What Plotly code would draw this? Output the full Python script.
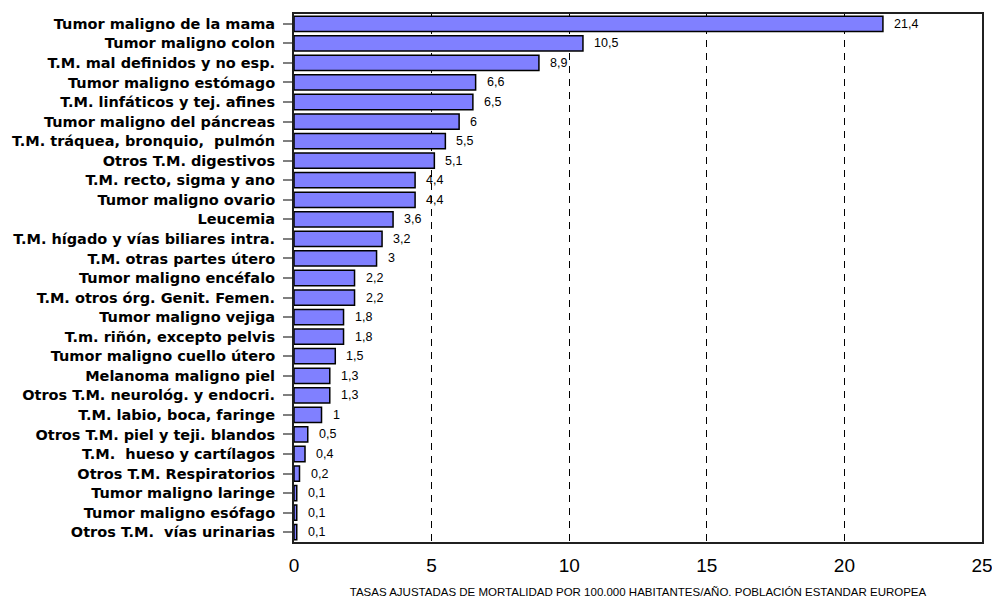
import plotly.graph_objects as go

categories = [
    "Tumor maligno de la mama",
    "Tumor maligno colon",
    "T.M. mal definidos y no esp.",
    "Tumor maligno estómago",
    "T.M. linfáticos y tej. afines",
    "Tumor maligno del páncreas",
    "T.M. tráquea, bronquio,\u00a0 pulmón",
    "Otros T.M. digestivos",
    "T.M. recto, sigma y ano",
    "Tumor maligno ovario",
    "Leucemia",
    "T.M. hígado y vías biliares intra.",
    "T.M. otras partes útero",
    "Tumor maligno encéfalo",
    "T.M. otros órg. Genit. Femen.",
    "Tumor maligno vejiga",
    "T.m. riñón, excepto pelvis",
    "Tumor maligno cuello útero",
    "Melanoma maligno piel",
    "Otros T.M. neurológ. y endocri.",
    "T.M. labio, boca, faringe",
    "Otros T.M. piel y teji. blandos",
    "T.M.\u00a0 hueso y cartílagos",
    "Otros T.M. Respiratorios",
    "Tumor maligno laringe",
    "Tumor maligno esófago",
    "Otros T.M.\u00a0 vías urinarias",
]
values = [21.4, 10.5, 8.9, 6.6, 6.5, 6, 5.5, 5.1, 4.4, 4.4, 3.6, 3.2, 3, 2.2, 2.2,
          1.8, 1.8, 1.5, 1.3, 1.3, 1, 0.5, 0.4, 0.2, 0.1, 0.1, 0.1]
x_ticks = [0, 5, 10, 15, 20, 25]
x_title = "TASAS AJUSTADAS DE MORTALIDAD POR 100.000 HABITANTES/AÑO. POBLACIÓN ESTANDAR EUROPEA"

labels = [("%g" % v).replace(".", ",") for v in values]

fig = go.Figure(go.Bar(
    y=categories, x=values, orientation="h",
    marker=dict(color="#8080ff", line=dict(color="black", width=1.5)),
    width=0.78,
))

for c, v, t in zip(categories, values, labels):
    fig.add_annotation(
        x=v, y=c, text=t, showarrow=False, xanchor="left", yanchor="middle",
        xshift=9, font=dict(family="Liberation Sans, Arial", size=12.5, color="black"),
    )

fig.update_layout(
    width=992, height=598,
    margin=dict(l=294, r=10, t=14, b=56, autoexpand=False),
    paper_bgcolor="white", plot_bgcolor="white",
    showlegend=False,
    font=dict(family="Liberation Sans, Arial", color="black"),
)
fig.update_xaxes(
    range=[0, 25], tickvals=x_ticks, ticktext=[str(t) for t in x_ticks],
    showgrid=True, gridcolor="black", griddash="7px,6px", gridwidth=1,
    showline=True, linecolor="#202020", linewidth=2, mirror=True,
    ticks="outside", ticklen=5, tickcolor="rgba(0,0,0,0)",
    tickfont=dict(size=19, family="Liberation Sans, Arial"),
    ticklabeloverflow="allow",
    title=dict(text=x_title, font=dict(size=11.5), standoff=16),
    zeroline=False, automargin=False,
)
fig.update_yaxes(
    categoryorder="array", categoryarray=categories, autorange="reversed",
    showline=True, linecolor="#202020", linewidth=2, mirror=True,
    ticks="outside", ticklen=9, tickcolor="#808080", tickwidth=1.5,
    ticklabelstandoff=5,
    tickfont=dict(size=14.5, family="DejaVu Sans", weight="bold"),
    showgrid=False, automargin=False,
)

# remove the default 8px page margin so the figure fills the window exactly
fig.write_html(
    "out.html",
    config={"displayModeBar": False},
    post_script="document.body.style.margin='0';document.body.style.overflow='hidden';",
)
